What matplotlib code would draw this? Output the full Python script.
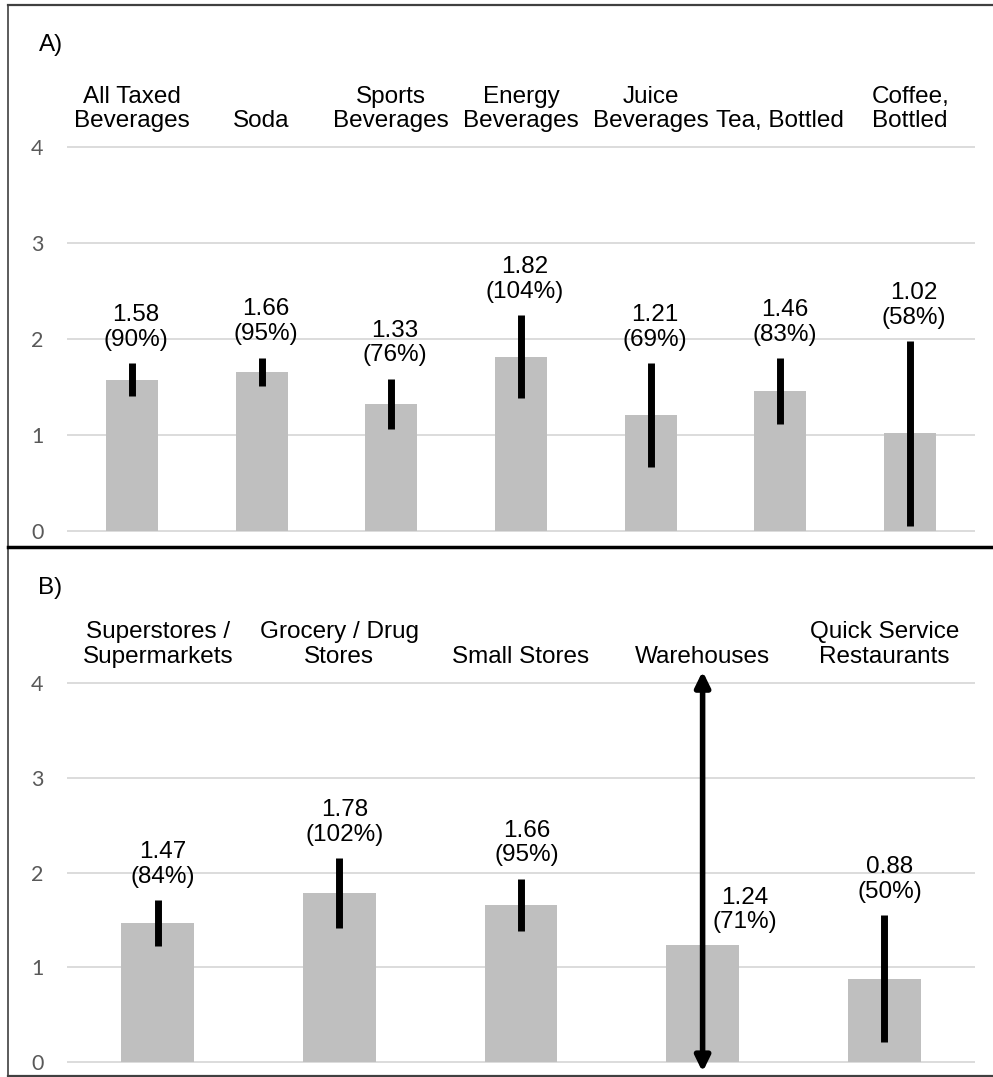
import matplotlib.pyplot as plt
from matplotlib.lines import Line2D

plt.rcParams['font.family'] = ['Liberation Sans', 'DejaVu Sans']

# panel A: by beverage type
cats_a = ['All Taxed\nBeverages', 'Soda', 'Sports\nBeverages', 'Energy\nBeverages',
          'Juice\nBeverages', 'Tea, Bottled', 'Coffee,\nBottled']
vals_a = [1.58, 1.66, 1.33, 1.82, 1.21, 1.46, 1.02]
pct_a = [90, 95, 76, 104, 69, 83, 58]
err_a = [0.17, 0.15, 0.26, 0.43, 0.54, 0.34, 0.96]

# panel B: by store type
cats_b = ['Superstores /\nSupermarkets', 'Grocery / Drug\nStores', 'Small Stores',
          'Warehouses', 'Quick Service\nRestaurants']
vals_b = [1.47, 1.78, 1.66, 1.24, 0.88]
pct_b = [84, 102, 95, 71, 50]
err_b = [0.24, 0.37, 0.275, 2.9, 0.67]  # warehouses interval runs off the axis

W, H = 993, 1077
fig = plt.figure(figsize=(W / 100, H / 100), dpi=100)


def draw_panel(ax, cats, vals, pct, err, ylim, pad):
    x = list(range(len(cats)))
    ax.set_xlim(-0.5, len(cats) - 0.5)
    ax.set_ylim(*ylim)
    ax.set_yticks([0, 1, 2, 3, 4])
    ax.grid(axis='y', color='#d9d9d9', lw=1.3)
    ax.set_axisbelow(True)
    for s in ax.spines.values():
        s.set_visible(False)

    ax.bar(x, vals, width=0.4, color='#bfbfbf', zorder=2)

    for i, (v, e) in enumerate(zip(vals, err)):
        lo, hi = v - e, v + e
        if lo < ylim[0] or hi > ylim[1]:
            # interval wider than the axis: clipped with arrow heads
            ax.annotate('', xy=(i, ylim[1]), xytext=(i, ylim[0]),
                        arrowprops=dict(arrowstyle='<|-|>,head_length=0.45,head_width=0.22',
                                        color='k', lw=4, shrinkA=0, shrinkB=0,
                                        mutation_scale=20), zorder=3)
            ax.text(i + 0.23, v + 0.12, f'{v:.2f}\n({pct[i]}%)', ha='center',
                    va='bottom', fontsize=17.5, linespacing=1.15)
        else:
            ax.errorbar(i, v, yerr=e, fmt='none', ecolor='k', elinewidth=5,
                        capsize=0, zorder=3)
            ax.text(i + 0.03, hi + 0.13, f'{v:.2f}\n({pct[i]}%)', ha='center',
                    va='bottom', fontsize=17.5, linespacing=1.15)

    ax.set_xticks(x)
    ax.set_xticklabels(cats, fontsize=17.5, linespacing=1.15)
    ax.xaxis.tick_top()
    ax.tick_params(axis='x', length=0, pad=pad)
    ax.tick_params(axis='y', length=0, pad=17, labelsize=15.5, labelcolor='#595959')
    for lab in ax.get_yticklabels():
        lab.set_fontfamily('Lato')


# pixel boxes converted to figure fractions
ax_a = fig.add_axes([67 / W, (H - 536.3) / H, 908 / W, (536.3 - 142.2) / H])
draw_panel(ax_a, cats_a, vals_a, pct_a, err_a, (-0.05, 4.05), 7)

ax_b = fig.add_axes([67 / W, (H - 1072) / H, 908 / W, (1072 - 671.2) / H])
draw_panel(ax_b, cats_b, vals_b, pct_b, err_b, (-0.105, 4.125), 2.5)

fig.text(39 / W, 1 - 45 / H, 'A)', fontsize=17.5, va='center')
fig.text(38 / W, 1 - 588 / H, 'B)', fontsize=17.5, va='center')

# panel frames
tf = fig.transFigure
fig.add_artist(Line2D([8 / W, 1], [1 - 5 / H] * 2, color='#404040', lw=1.6, transform=tf))
fig.add_artist(Line2D([8 / W, 8 / W], [1 - 5 / H, 1 - 1076 / H], color='#404040', lw=1.2, transform=tf))
fig.add_artist(Line2D([8 / W, 1], [1 - 547 / H] * 2, color='k', lw=2.5, transform=tf))
fig.add_artist(Line2D([8 / W, 1], [1 - 1076 / H] * 2, color='#404040', lw=1.6, transform=tf))

fig.savefig('out.png', dpi=100)
